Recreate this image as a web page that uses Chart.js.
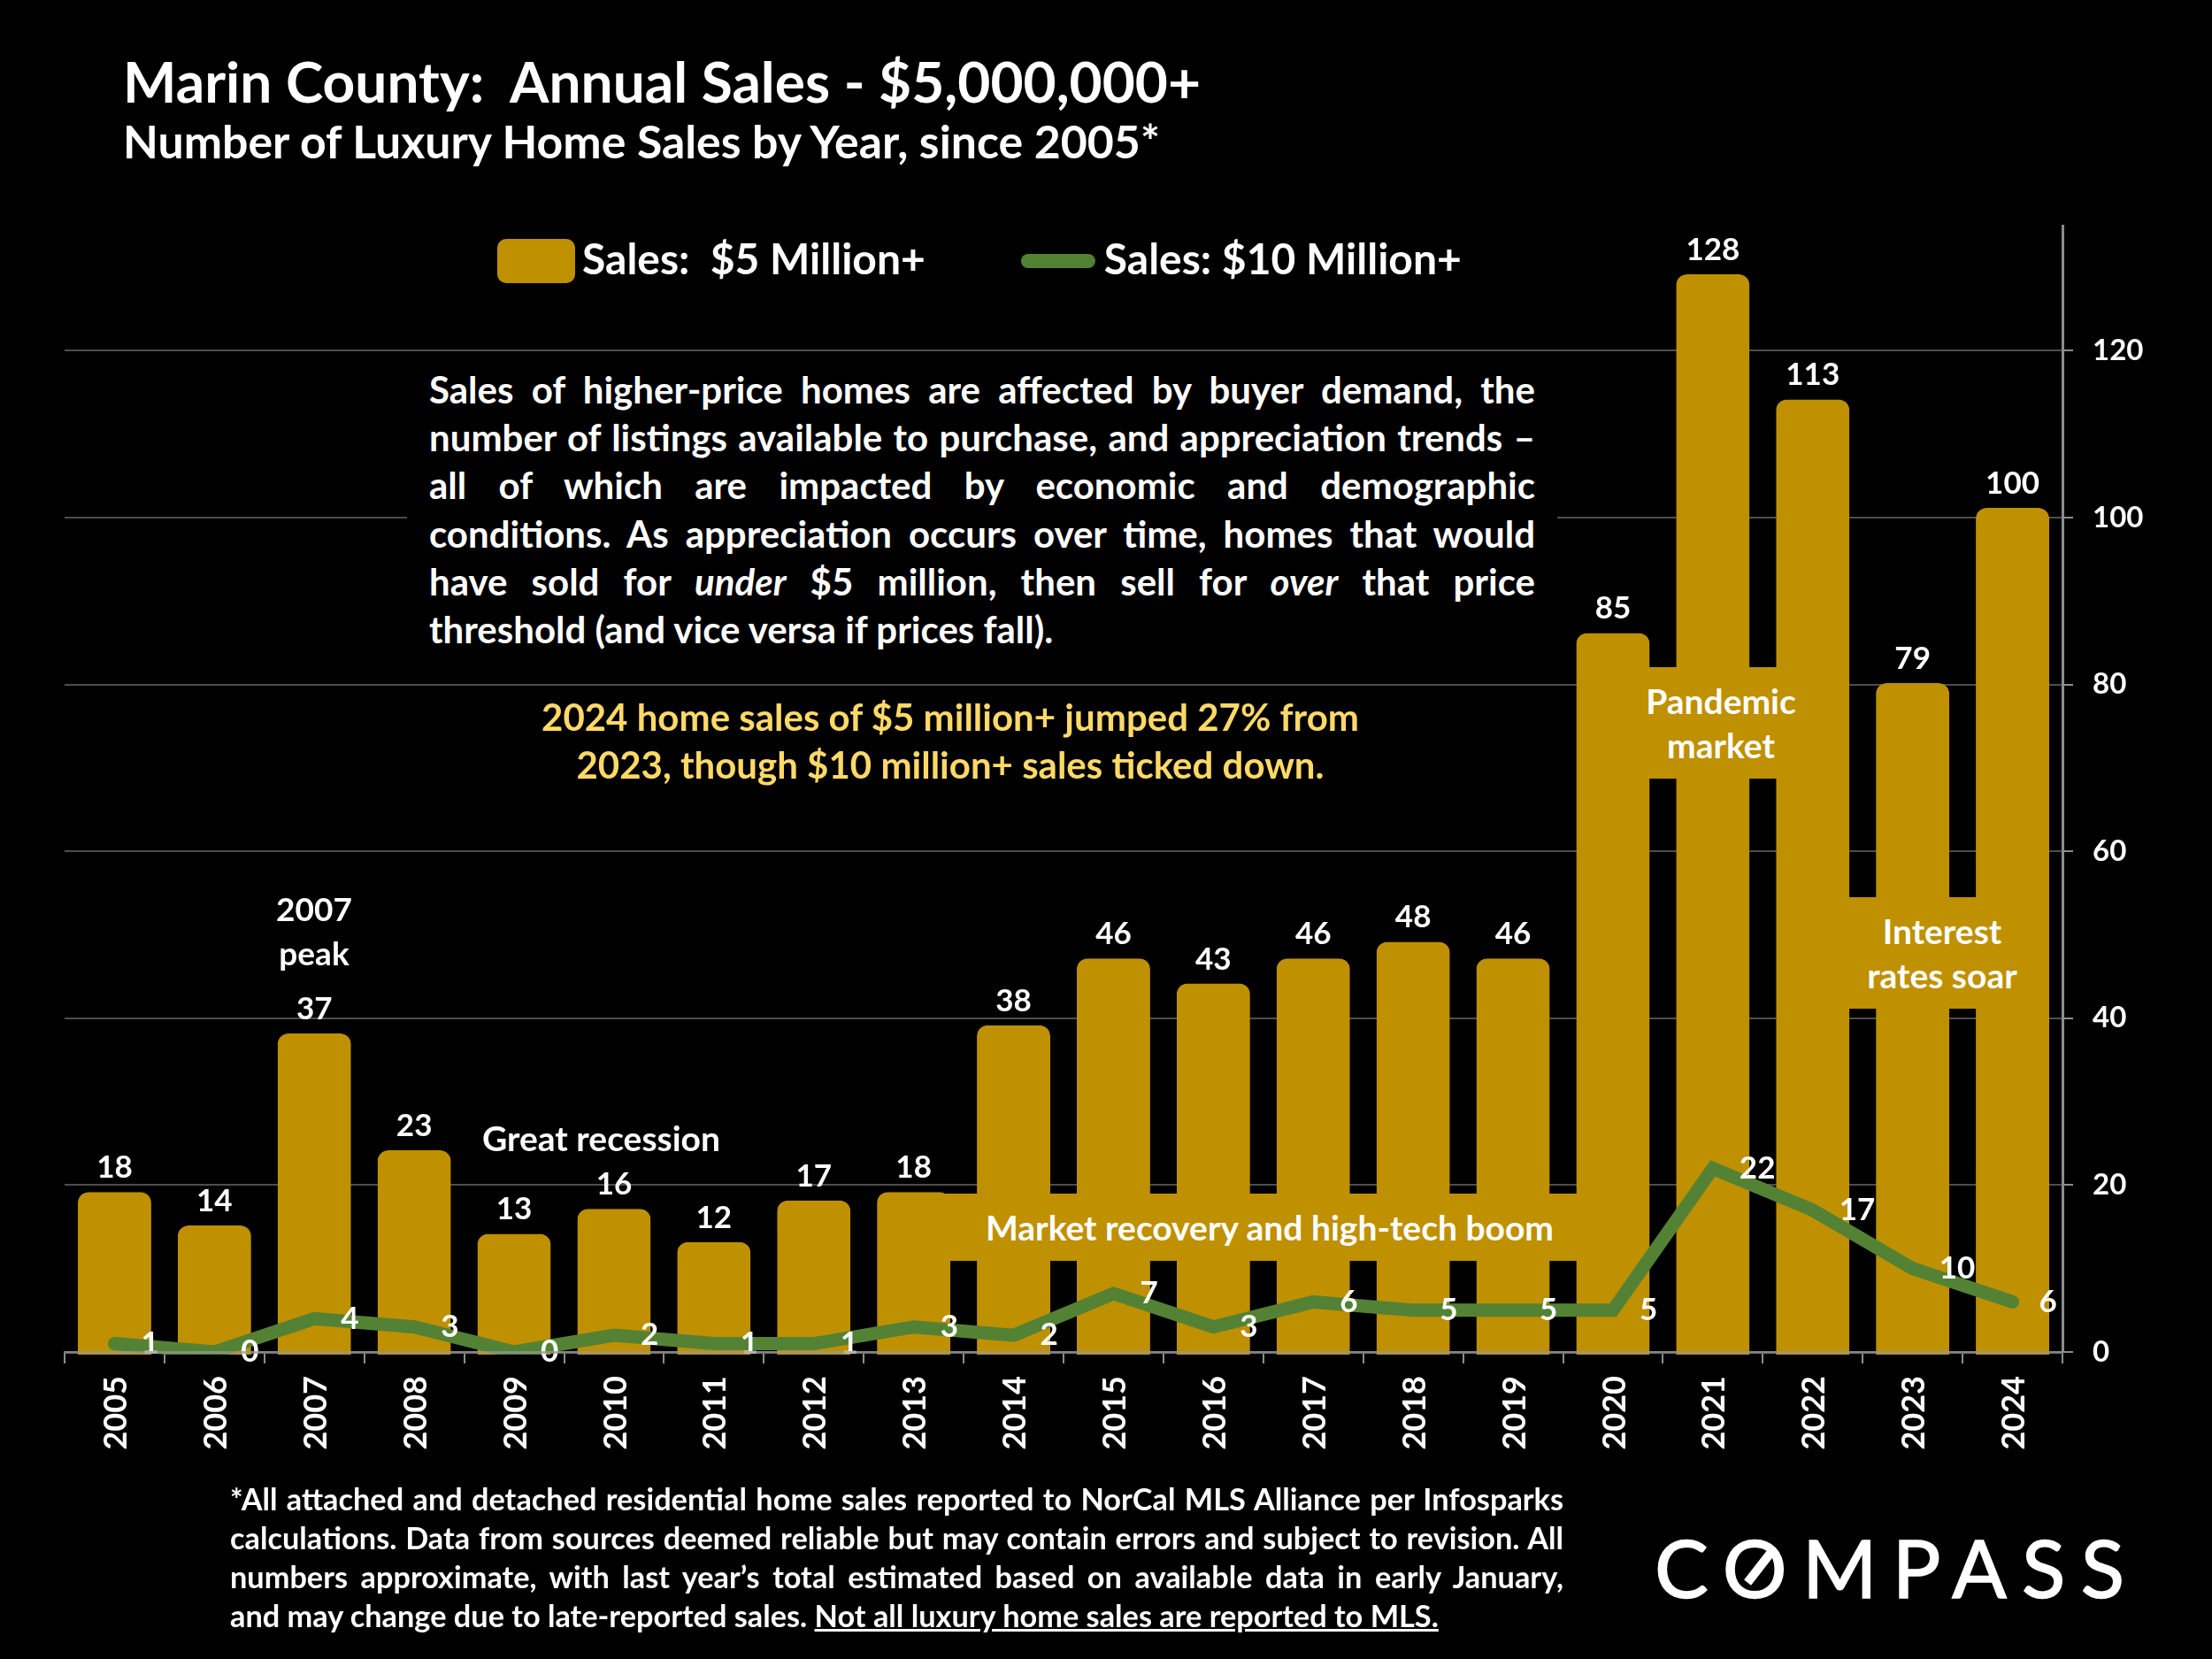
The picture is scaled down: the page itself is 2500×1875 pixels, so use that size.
<!DOCTYPE html>
<html><head><meta charset="utf-8">
<script src="https://cdn.jsdelivr.net/npm/chart.js@4"></script>
<style>
html,body{margin:0;padding:0;background:#000;width:2500px;height:1875px;overflow:hidden}
#c{position:absolute;left:0;top:0;width:2500px;height:1875px}
.t{position:absolute;color:#fff;font-family:Lato,sans-serif;font-weight:700;white-space:nowrap}
.box{background:#000}
.gold{background:#BF9000}
.j{white-space:normal;text-align:justify}
.j span.l{display:block;text-align:justify;text-align-last:justify}
.j span.e{display:block;text-align:left}
</style></head><body>
<canvas id="c" width="2500" height="1875"></canvas>
<div class="t" style="left:139px;top:52px;font-size:64px;line-height:80px">Marin County:&nbsp; Annual Sales - $5,000,000+</div>
<div class="t" style="left:139px;top:129px;font-size:51.8px;line-height:60px">Number of Luxury Home Sales by Year, since 2005*</div>
<div class="t box j" style="left:460px;top:413px;width:1300px;padding:0 25px;font-size:42px;line-height:54.2px;box-sizing:border-box;height:340px">
<span class="l">Sales of higher-price homes are affected by buyer demand, the</span>
<span class="l">number of listings available to purchase, and appreciation trends –</span>
<span class="l">all of which are impacted by economic and demographic</span>
<span class="l">conditions. As appreciation occurs over time, homes that would</span>
<span class="l">have sold for <i>under</i> $5 million, then sell for <i>over</i> that price</span>
<span class="e">threshold (and vice versa if prices fall).</span>
</div>
<div class="t" style="left:474px;top:783px;width:1200px;text-align:center;font-size:42px;line-height:54px;color:#FFD966">2024 home sales of $5 million+ jumped 27% from<br>2023, though $10 million+ sales ticked down.</div>
<div class="t" style="left:310px;top:1002px;font-size:37px;line-height:50px;width:90px;text-align:center">2007<br>peak</div>
<div class="t" style="left:545px;top:1261px;font-size:39px;line-height:50px">Great recession</div>
<div class="t gold" style="left:1840px;top:754px;width:210px;height:126px;text-align:center;font-size:39px;line-height:50px"><div style="margin-top:13px">Pandemic<br>market</div></div>
<div class="t gold" style="left:2080px;top:1014px;width:230px;height:126px;text-align:center;font-size:39px;line-height:50px"><div style="margin-top:13px">Interest<br>rates soar</div></div>
<div class="t gold" style="left:1065px;top:1349px;width:740px;height:76px;text-align:center;font-size:39px;line-height:76px">Market recovery and high-tech boom</div>
<div class="t j" style="left:260px;top:1672px;width:1507px;font-size:34.3px;line-height:44px">
<span class="l">*All attached and detached residential home sales reported to NorCal MLS Alliance per Infosparks</span>
<span class="l">calculations. Data from sources deemed reliable but may contain errors and subject to revision. All</span>
<span class="l">numbers approximate, with last year’s total estimated based on available data in early January,</span>
<span class="e">and may change due to late-reported sales. <u>Not all luxury home sales are reported to MLS.</u></span>
</div>
<div class="t" style="left:1870px;top:1716px;font-size:91px;line-height:110px;font-weight:400;letter-spacing:17.3px;-webkit-text-stroke:1.5px #fff">COMPASS</div>
<div style="position:absolute;left:1967px;top:1767px;width:42px;height:10px;background:#fff;transform:rotate(-52deg)"></div>
<script>
const categories=['2005','2006','2007','2008','2009','2010','2011','2012','2013','2014','2015','2016','2017','2018','2019','2020','2021','2022','2023','2024'];
const sales5M=[18,14,37,23,13,16,12,17,18,38,46,43,46,48,46,85,128,113,79,100];
const sales10M=[1,0,4,3,0,2,1,1,3,2,7,3,6,5,5,5,22,17,10,6];
const yTicks=[0,20,40,60,80,100,120];
const seriesNames=['Sales:  $5 Million+','Sales: $10 Million+'];
const GOLD='#BF9000',GREEN='#548235';
const FONT='Lato, sans-serif';

function swatch(w,h,draw){const s=document.createElement('canvas');s.width=w;s.height=h;draw(s.getContext('2d'));return s;}
const goldSwatch=swatch(88,50,x=>{x.fillStyle=GOLD;x.beginPath();x.roundRect(0,0,88,50,10);x.fill();});
const greenSwatch=swatch(84,16,x=>{x.strokeStyle=GREEN;x.lineWidth=16;x.lineCap='round';x.beginPath();x.moveTo(8,8);x.lineTo(76,8);x.stroke();});

const placeLegend={id:'placeLegend',
  beforeLayout(ch){const l=ch.legend;if(l._wrapped)return;l._wrapped=true;const f=l.fit;l.fit=function(){f.call(this);this.height=255;};},
  afterLayout(ch){const l=ch.legend;const p=l.options.labels.padding;l.left=578-p;l.right=l.left+1500;l.top=271-p;l.bottom=340;}};
const valueLabels={id:'valueLabels',afterDatasetsDraw(ch){
  const c=ch.ctx,x=ch.scales.x,y=ch.scales.y;c.save();c.fillStyle='#fff';c.font='700 35px '+FONT;
  c.textAlign='center';c.textBaseline='alphabetic';
  sales5M.forEach((v,i)=>c.fillText(String(v),x.getPixelForValue(i),y.getPixelForValue(v)-27));
  c.textAlign='left';c.textBaseline='middle';
  sales10M.forEach((v,i)=>c.fillText(String(v),x.getPixelForValue(i)+30,y.getPixelForValue(v)));
  c.restore();
}};
new Chart(document.getElementById('c'),{
  type:'bar',
  data:{labels:categories,datasets:[
    {type:'bar',label:seriesNames[0],data:sales5M,backgroundColor:GOLD,borderColor:GOLD,borderWidth:1,order:2,
     inflateAmount:11,borderSkipped:false,barPercentage:1,categoryPercentage:0.54,
     borderRadius:{topLeft:12,topRight:12,bottomLeft:0,bottomRight:0},
     clip:{left:false,right:false,top:false,bottom:3}},
    {type:'line',label:seriesNames[1],data:sales10M,borderColor:GREEN,borderWidth:15,pointRadius:0,order:1,
     borderCapStyle:'round',borderJoinStyle:'miter',tension:0,
     clip:{left:false,right:false,top:false,bottom:3}}
  ]},
  options:{responsive:false,animation:false,devicePixelRatio:1,
    layout:{padding:{left:73,top:0,right:69,bottom:227}},
    plugins:{tooltip:{enabled:false},title:{display:false},
      legend:{display:true,position:'top',align:'start',
        labels:{usePointStyle:true,pointStyleWidth:56,boxHeight:48,padding:122,color:'#fff',font:{family:FONT,size:48,weight:'700'},
          generateLabels:()=>[
            {text:seriesNames[0],pointStyle:goldSwatch,fontColor:'#fff',datasetIndex:0,lineWidth:0,strokeStyle:'transparent',fillStyle:'transparent'},
            {text:seriesNames[1],pointStyle:greenSwatch,fontColor:'#fff',datasetIndex:1,lineWidth:0,strokeStyle:'transparent',fillStyle:'transparent'}]}}},
    scales:{
      x:{grid:{display:true,offset:true,drawOnChartArea:false,drawTicks:true,tickLength:13,color:'#8c8c8c',lineWidth:2},
         border:{display:true,color:'rgba(150,150,150,.75)',width:3,z:1},
         ticks:{color:'#fff',font:{family:FONT,size:36,weight:'700'},minRotation:90,maxRotation:90,padding:14,autoSkip:false,labelOffset:2},
         afterFit(s){s.height=120;}},
      y:{position:'right',min:0,max:135,afterBuildTicks(s){s.ticks=yTicks.map(v=>({value:v}));},
         grid:{color:'#4d4d4d',lineWidth:2,tickLength:12,tickColor:'#8c8c8c'},
         border:{display:true,color:'#8c8c8c',width:3},
         ticks:{color:'#fff',font:{family:FONT,size:33,weight:'700'},padding:22},
         afterFit(s){s.width=100;}}
    }
  },
  plugins:[placeLegend,valueLabels]
});
</script>
</body></html>
